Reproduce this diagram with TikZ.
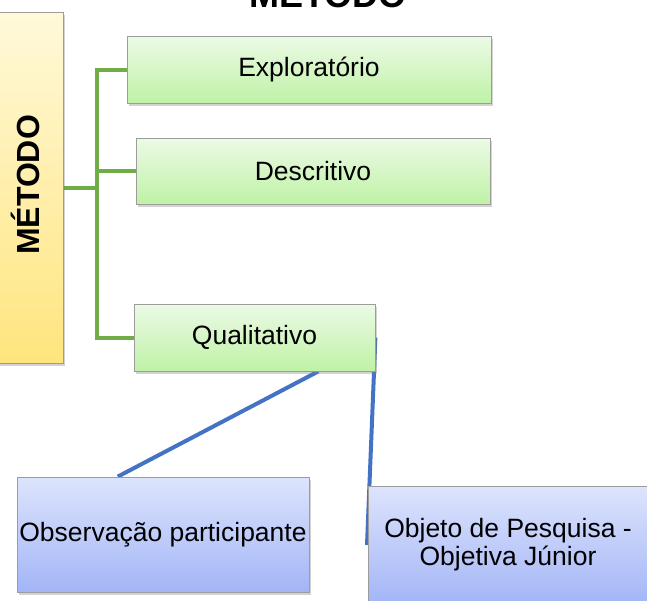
\documentclass[tikz,border=0pt]{standalone}
\usepackage{fontspec}
\setmainfont{Liberation Sans}
\usetikzlibrary{shadows,backgrounds}

\definecolor{greentop}{HTML}{ECFAE6}
\definecolor{greenbot}{HTML}{BFF2A6}
\definecolor{bluetop}{HTML}{DDE4FC}
\definecolor{bluebot}{HTML}{A3B5F7}
\definecolor{yellowtop}{HTML}{FFF9DA}
\definecolor{yellowbot}{HTML}{FFE57E}
\definecolor{greenline}{HTML}{70AD47}
\definecolor{blueline}{HTML}{4472C4}
\definecolor{boxedge}{HTML}{9C9C9C}

\tikzset{
  box/.style={draw=boxedge, line width=0.8pt, inner sep=0pt, align=center,
    font=\fontsize{26.5}{28}\selectfont,
    drop shadow={shadow xshift=2pt, shadow yshift=-3pt, opacity=0.35}},
  greenbox/.style={box, top color=greentop, bottom color=greenbot},
  bluebox/.style={box, top color=bluetop, bottom color=bluebot},
  yellowbox/.style={box, top color=yellowtop, bottom color=yellowbot},
  greenwire/.style={draw=greenline, line width=4pt},
  bluewire/.style={draw=blueline, line width=4pt},
}

\begin{document}
\begin{tikzpicture}[x=1pt, y=-1pt]
\useasboundingbox (0,0) rectangle (647,600);
% title, cut off at the top
\node[anchor=base, font=\fontsize{36}{40}\selectfont\bfseries] (title) at (328,7) {MÉTODO};
% left bar
\node[yellowbox, minimum width=77, minimum height=351] (metodo) at (24.5,187.5) {};
\node[rotate=90, font=\fontsize{32}{36}\selectfont\bfseries] (metodolabel) at (25,185) {MÉTODO};
% green boxes
\node[greenbox, minimum width=364, minimum height=67] (explo) at (309,69.5) {Exploratório};
\node[greenbox, minimum width=354, minimum height=66] (descr) at (313,171) {Descritivo};
\node[greenbox, minimum width=241, minimum height=67] (quali) at (254.5,337.5) {Qualitativo};
% blue boxes
\node[bluebox, minimum width=292, minimum height=115] (obs) at (163,534.5) {Observação participante};
\node[bluebox, minimum width=280, minimum height=118] (obj) at (508,545) {Objeto de Pesquisa -\\Objetiva Júnior};
% connectors
\coordinate (trunk) at (97,187.5);
\coordinate (objtail) at (367,545);
\begin{pgfonlayer}{background}
\draw[greenwire] (metodo.east) -- (trunk);
\draw[greenwire] (explo.west) -| (trunk) |- (quali.west);
\draw[greenwire] (trunk |- descr.west) -- (descr.west);
\draw[bluewire] (quali.-28) -- (obs.128);
\draw[bluewire] (quali.east) -- (objtail);
\end{pgfonlayer}
\end{tikzpicture}
\end{document}
